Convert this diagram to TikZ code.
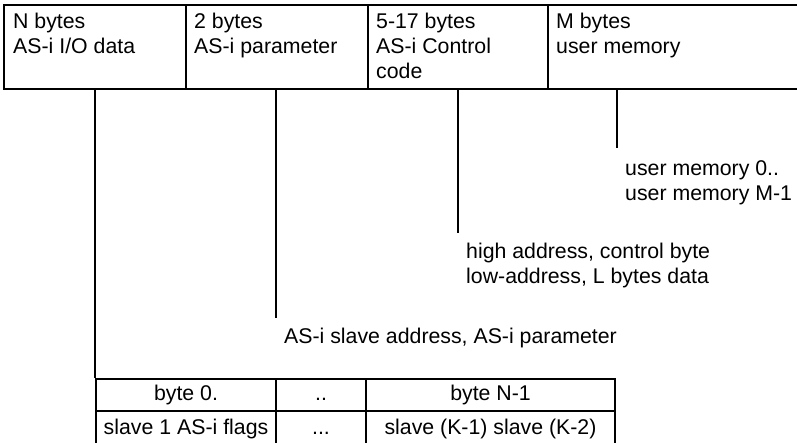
\documentclass[tikz,border=0pt]{standalone}
\usepackage{fontspec}
\setmainfont{Liberation Sans}

\begin{document}
\begin{tikzpicture}[
    x=1pt, y=-1pt,
    field/.style={rectangle, draw=black, line width=1.8pt,
        minimum height=84pt, inner sep=0pt},
    txt/.style={inner sep=0pt, align=left,
        font=\fontsize{21.3}{25}\selectfont},
    cell/.style={rectangle, draw=black, line width=1.8pt,
        minimum height=32pt, inner sep=0pt,
        text height=15pt, text depth=4pt,
        font=\fontsize{21.3}{25}\selectfont},
    edge/.style={line width=1.8pt, -}
]
    \useasboundingbox (0,0) rectangle (797,442);
    % top record
    \node[field, minimum width=182pt] (a) at (95,47) {};
    \node[field, minimum width=182pt] (b) at (277,47) {};
    \node[field, minimum width=180pt] (c) at (458,47) {};
    \node[field, minimum width=256pt] (d) at (676,47) {};
    \node[txt, anchor=north west] (at) at (13,13) {N bytes\\AS-i I/O data};
    \node[txt, anchor=north west] (bt) at (194,13) {2 bytes\\AS-i parameter};
    \node[txt, anchor=north west] (ct) at (376,13) {5-17 bytes\\AS-i Control\\code};
    \node[txt, anchor=north west] (dt) at (556,13) {M bytes\\user memory};
    % byte table
    \node[cell, minimum width=180pt] (t1) at (186,395) {byte 0.};
    \node[cell, minimum width=90pt] (t2) at (321,395) {..};
    \node[cell, minimum width=249pt] (t3) at (490.5,395) {byte N-1};
    \node[cell, minimum width=180pt, minimum height=36pt] (u1) at (186,429) {slave 1 AS-i flags};
    \node[cell, minimum width=90pt, minimum height=36pt] (u2) at (321,429) {...};
    \node[cell, minimum width=249pt, minimum height=36pt] (u3) at (490.5,429) {slave (K-1) slave (K-2)};
    % contents
    \coordinate (b0) at (276,318);
    \coordinate (c0) at (458,233);
    \coordinate (d0) at (617,148);
    \node[txt, anchor=north west] (bl) at (284,328) {AS-i slave address, AS-i parameter};
    \node[txt, anchor=north west] (cl) at (466,243) {high address, control byte\\low-address, L bytes data};
    \node[txt, anchor=north west] (dl) at (625,160) {user memory 0..\\user memory M-1};
    \draw[edge] (t1.north west |- a.south) -- (t1.north west);
    \draw[edge] (b0 |- b.south) -- (b0);
    \draw[edge] (c0 |- c.south) -- (c0);
    \draw[edge] (d0 |- d.south) -- (d0);
\end{tikzpicture}
\end{document}
